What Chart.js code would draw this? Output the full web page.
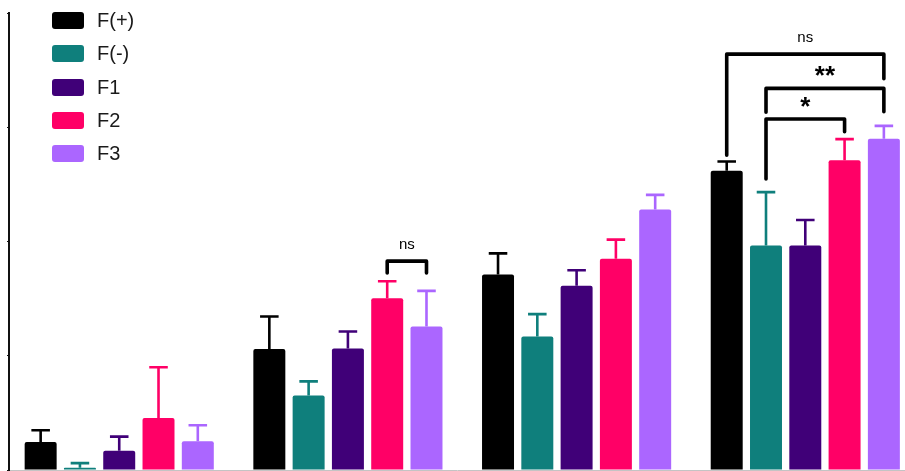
<!DOCTYPE html>
<html>
<head>
<meta charset="utf-8">
<title>F groups</title>
<script src="https://cdn.jsdelivr.net/npm/chart.js@4.4.1/dist/chart.umd.min.js"></script>
<style>
  body { margin: 0; background: #fff; overflow: hidden; }
  #wrap { position: relative; width: 905px; height: 471px; }
  #legend {
    position: absolute; left: 52px; top: 4px;
    font-family: "Liberation Sans", Arial, sans-serif; font-size: 20px; color: #1a1a1a;
  }
  .item { display: flex; align-items: center; height: 33.3px; }
  .box { width: 32px; height: 17px; border-radius: 3px; margin-right: 13px; }
</style>
</head>
<body>
<div id="wrap">
  <canvas id="chart"></canvas>
  <div id="legend"></div>
</div>
<script>
// group positions on the x axis (x labels are not shown)
const groups = [0, 1, 2, 3];
const seriesNames = ['F(+)', 'F(-)', 'F1', 'F2', 'F3'];
const seriesColors = ['#000000', '#0f7f7c', '#400078', '#ff0066', '#ab66ff'];

const fPlus  = [6.1, 26.5, 42.8, 65.5];
const fMinus = [0.5, 16.3, 29.2, 49.1];
const f1     = [4.2, 26.6, 40.3, 49.1];
const f2     = [11.4, 37.6, 46.2, 67.8];
const f3     = [6.3, 31.4, 57.0, 72.5];

const errPlus  = [2.6, 7.1, 4.6, 2.0];
const errMinus = [1.0, 3.1, 4.9, 11.7];
const err1     = [3.1, 3.7, 3.4, 5.6];
const err2     = [11.1, 3.7, 4.2, 4.6];
const err3     = [3.5, 7.8, 3.2, 2.8];

const yTicks = [0, 25, 50, 75, 100];

// significance brackets: group, series from/to, line level, leg ends (data units)
const brackets = [
  { group: 1, from: 3, to: 4, level: 45.7, leftEnd: 43.1, rightEnd: 43.1, text: 'ns' },
  { group: 3, from: 0, to: 4, level: 91.0, leftEnd: 68.9, rightEnd: 85.6, text: 'ns' },
  { group: 3, from: 1, to: 4, level: 83.5, leftEnd: 78.3, rightEnd: 78.4, text: '**' },
  { group: 3, from: 1, to: 3, level: 76.8, leftEnd: 63.7, rightEnd: 74.0, text: '*' }
];

const values = [fPlus, fMinus, f1, f2, f3];
const errors = [errPlus, errMinus, err1, err2, err3];

const datasets = seriesNames.map((name, i) => ({
  label: name,
  data: groups.map((g, j) => ({ x: g, y: values[i][j] })),
  errors: errors[i],
  backgroundColor: seriesColors[i],
  borderRadius: 2,
  borderSkipped: 'bottom',
  categoryPercentage: 0.859,
  barPercentage: 0.814
}));

const errorBars = {
  id: 'errorBars',
  afterDatasetsDraw(chart) {
    const ctx = chart.ctx;
    const y = chart.scales.y;
    chart.data.datasets.forEach((ds, i) => {
      const meta = chart.getDatasetMeta(i);
      meta.data.forEach((bar, j) => {
        const top = y.getPixelForValue(ds.data[j].y + ds.errors[j]);
        const half = bar.width * 0.29;
        ctx.save();
        ctx.strokeStyle = ds.backgroundColor;
        ctx.lineWidth = 2.6;
        ctx.beginPath();
        ctx.moveTo(bar.x, bar.y);
        ctx.lineTo(bar.x, top);
        ctx.moveTo(bar.x - half, top);
        ctx.lineTo(bar.x + half, top);
        ctx.stroke();
        ctx.restore();
      });
    });
  }
};

const sigBrackets = {
  id: 'sigBrackets',
  afterDatasetsDraw(chart) {
    const ctx = chart.ctx;
    const y = chart.scales.y;
    brackets.forEach(b => {
      const x1 = chart.getDatasetMeta(b.from).data[b.group].x;
      const x2 = chart.getDatasetMeta(b.to).data[b.group].x;
      const yl = y.getPixelForValue(b.level);
      ctx.save();
      ctx.strokeStyle = '#000';
      ctx.lineWidth = 3.6;
      ctx.lineCap = 'round';
      ctx.lineJoin = 'round';
      ctx.beginPath();
      ctx.moveTo(x1, y.getPixelForValue(b.leftEnd));
      ctx.lineTo(x1, yl);
      ctx.lineTo(x2, yl);
      ctx.lineTo(x2, y.getPixelForValue(b.rightEnd));
      ctx.stroke();
      ctx.fillStyle = '#000';
      ctx.textAlign = 'center';
      ctx.textBaseline = 'alphabetic';
      if (b.text === 'ns') {
        ctx.font = '15px "Liberation Sans", Arial, sans-serif';
        ctx.fillText(b.text, (x1 + x2) / 2, yl - 12);
      } else {
        ctx.font = 'bold 26px "Liberation Sans", Arial, sans-serif';
        ctx.fillText(b.text, (x1 + x2) / 2, yl - 4);
      }
      ctx.restore();
    });
  }
};

const chart = new Chart(document.getElementById('chart'), {
  type: 'bar',
  data: { datasets },
  options: {
    responsive: true,
    maintainAspectRatio: false,
    animation: false,
    layout: { padding: { left: 7, top: 13, right: 0, bottom: 1 } },
    plugins: { legend: { display: false }, tooltip: { enabled: false } },
    scales: {
      x: {
        type: 'linear',
        offset: false,
        min: -0.482,
        max: 3.436,
        ticks: { display: false, stepSize: 1, includeBounds: false },
        grid: { display: false, drawTicks: false, tickLength: 0 },
        border: { display: true, color: '#c4c4c4', width: 1 }
      },
      y: {
        min: 0,
        max: 100,
        afterBuildTicks: axis => { axis.ticks = yTicks.map(v => ({ value: v })); },
        ticks: { display: false },
        grid: { drawOnChartArea: false, drawTicks: true, tickLength: 2, color: '#111', lineWidth: 1 },
        border: { display: true, color: '#111', width: 2 }
      }
    }
  },
  plugins: [errorBars, sigBrackets]
});

// legend built from the datasets
const legend = document.getElementById('legend');
chart.data.datasets.forEach(ds => {
  const item = document.createElement('div');
  item.className = 'item';
  const box = document.createElement('span');
  box.className = 'box';
  box.style.background = ds.backgroundColor;
  const label = document.createElement('span');
  label.textContent = ds.label;
  item.appendChild(box);
  item.appendChild(label);
  legend.appendChild(item);
});
</script>
</body>
</html>
